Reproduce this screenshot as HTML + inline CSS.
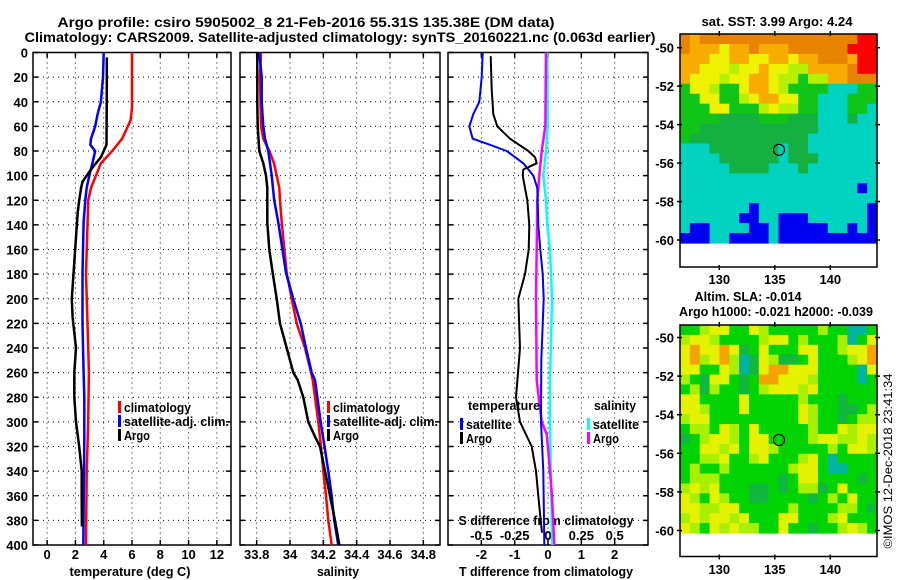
<!DOCTYPE html>
<html><head><meta charset="utf-8"><style>
html,body{margin:0;padding:0;background:#fff;}
svg{display:block;font-family:"Liberation Sans",sans-serif;}
text{fill:#000;}
</style></head><body>
<svg id="fig" width="900" height="580" viewBox="0 0 900 580" xmlns="http://www.w3.org/2000/svg">
<rect x="0" y="0" width="900" height="580" fill="#fff"/>
<text x="306" y="27" text-anchor="middle" font-size="14" font-weight="bold" textLength="497" lengthAdjust="spacingAndGlyphs">Argo profile: csiro 5905002_8 21-Feb-2016 55.31S 135.38E (DM data)</text>
<text x="340" y="42" text-anchor="middle" font-size="14" font-weight="bold" textLength="631" lengthAdjust="spacingAndGlyphs">Climatology: CARS2009. Satellite-adjusted climatology: synTS_20160221.nc (0.063d earlier)</text>
<g id="content"></g>
</svg>
<script>
// ---- data ----
const depthTicks=[0,20,40,60,80,100,120,140,160,180,200,220,240,260,280,300,320,340,360,380,400];
const tempTicks=[0,2,4,6,8,10,12];
const salTicks=[33.8,34,34.2,34.4,34.6,34.8];
const salTickLabels=["33.8","34","34.2","34.4","34.6","34.8"];
const tdiffTicks=[-2,-1,0,1,2];
const sdiffTicks=[-0.5,-0.25,0,0.25,0.5];
const sdiffTickLabels=["-0.5","-0.25","0","0.25","0.5"];
const latTicks=[-50,-52,-54,-56,-58,-60];
const lonTicks=[130,135,140];

const climTDepth=[0,45,55,60,70,80,90,100,110,120,140,180,220,260,300,340,400];
const climTVal=[6.0,6.0,5.9,5.7,5.3,4.6,3.8,3.45,3.1,2.9,2.85,2.75,2.85,2.95,2.9,2.8,2.75];
const satTDepth=[0,20,40,50,60,70,75,80,85,90,100,110,120,138,179,220,260,280,314,400];
const satTVal=[4.0,3.95,3.8,3.57,3.4,3.1,3.05,3.4,3.3,3.2,2.98,2.8,2.7,2.58,2.5,2.5,2.58,2.63,2.63,2.56];
const argoTDepth=[4,30,75,80,85,90,95,100,105,110,120,130,150,170,200,215,240,260,280,300,320,340,360,385];
const argoTVal=[4.22,4.22,4.2,4.0,3.8,3.45,3.1,2.8,2.5,2.4,2.27,2.16,2.04,1.92,1.74,1.8,2.04,1.92,1.92,2.04,2.27,2.44,2.44,2.46];

const climSDepth=[0,20,60,70,80,90,100,110,120,138,179,200,220,240,260,266,300,320,340,360,380,400];
const climSVal=[33.826,33.82,33.826,33.84,33.876,33.904,33.92,33.936,33.94,33.95,33.98,34.01,34.04,34.09,34.126,34.136,34.17,34.186,34.2,34.216,34.23,34.25];
const satSDepth=[0,20,40,60,70,80,100,120,138,179,200,220,240,260,266,300,340,360,380,400];
const satSVal=[33.816,33.83,33.83,33.84,33.85,33.87,33.89,33.905,33.93,33.976,34.02,34.064,34.096,34.13,34.15,34.184,34.23,34.25,34.265,34.29];
const argoSDepth=[0,40,60,80,90,100,110,138,160,179,200,220,240,260,266,280,300,312,320,340,360,380,400];
const argoSVal=[33.804,33.804,33.806,33.816,33.84,33.856,33.864,33.864,33.876,33.896,33.92,33.94,33.98,34.02,34.046,34.08,34.11,34.15,34.18,34.21,34.24,34.27,34.296];

const satDTDepth=[0,20,40,50,60,70,75,80,90,100,110,140,160,180,200,250,300,340,380,400];
const satDTVal=[-1.96,-1.99,-2.06,-2.24,-2.36,-2.26,-1.74,-1.24,-0.74,-0.44,-0.32,-0.29,-0.23,-0.16,-0.13,-0.2,-0.21,-0.14,-0.12,-0.11];
const argoDTDepth=[3,30,50,60,70,80,85,90,95,100,120,140,160,180,200,240,280,300,320,340,360,380,390];
const argoDTVal=[-1.72,-1.69,-1.64,-1.52,-1.14,-0.59,-0.39,-0.34,-0.74,-0.76,-0.62,-0.56,-0.58,-0.69,-0.89,-0.84,-0.96,-0.84,-0.49,-0.36,-0.29,-0.22,-0.18];
const satDSDepth=[0,60,80,100,120,140,160,200,266,300,340,400];
const satDSVal=[-0.005,-0.003,-0.015,-0.035,-0.015,-0.005,0.015,0.03,0.015,0.015,0.02,0.032];
const argoDSDepth=[0,60,80,100,120,160,200,266,280,300,310,320,340,360,400];
const argoDSVal=[-0.015,-0.02,-0.047,-0.065,-0.08,-0.085,-0.09,-0.085,-0.07,-0.047,-0.01,-0.001,0.015,0.03,0.047];

// SST map coarse grid (20 cols x 21 rows), codes -> palette
const sstRows=[
"OAOOOOOOOOOOOOOOOORR","OAAAYAAOAAAOOOOOORRR","AAAYYAAYYAAYAAOOOARR","AAYYYLYYAYYLLAAAAORR",
"AYYYLYYAAYLLGLLAAOOO","GYYLGGYAAYLGGGGCCCGG","GGYYGGLYAAYYGGCCCGGG","GGGYYGGGLYLLGGCCCGGC",
"GGGGDDDDGGGDDDCCCDCC","GGDDDDDDDDDDDDCCCCCC","GDDDDDDDDDDDDCCCCCCC","CCCDDDDDDDCDDCCCCCCC",
"CCCCDDDDDDCDDDCCCCCC","CCCCCDDDDCCCDCCCCCCC","CCCCCCCCCCCCCCCCCCCC","CCCCCCCCCCCCCCCCCCBC",
"CCCCCCCCCCCCCCCCCCCC","CCCCCCCBCCCCCCCCCCCB","CCCCCCBBCCBBBCCCCCCB","CBBCCCCBBCBBBBBCCBCB",
"BBBCCBBBBCBBBBBBBBBB"];
const slaRows=[
"GGLYYGGYLGGGGGLGGTTG","LYYLGGGGLYYGLGGGLTGY","YOYYOYDGYGGGYYGGLYYO","YOLYOLTDYLDDGYGGGLYO",
"YYGGYLTDYOOYYYGGGGTY","LGDYYGDGOOYYYLGGGGTG","GLDLGGDGLYYYLYGGGGGG","YYGGGGYGGGGGLGGGDGGG",
"YYLGGGYGGGGGYLGGDDGL","LYYGGGGGGGGGYLGGDGLL","GLLGYLGYGGGGGLGGYLYY","DGLYYLGYYGGGGLYYLLYL",
"GGYYLYGYYLGGGGGLGYYL","GGLLYGGLYGGGLYGTGGGG","GLGGLGGGGGGLYYGTTGGG","GLLLGGGGGGDGYYGGGGDG",
"LYLYGGGDDGDGLLDGYGGG","YLGYLGGDDGGGGDGLGYGG","YYLLYYGGGGGLGGGGLLGD","LYLYYLYGGGYYGGGLYGGG",
"YLGYLYLLGGYGGDGGLYLG"];
const sstArgoLon=135.38, sstArgoLat=-55.31;

// ---- layout helpers ----
const NS="http://www.w3.org/2000/svg";
const root=document.getElementById('content');
function mk(tag,attrs,parent){const e=document.createElementNS(NS,tag);for(const k in attrs)e.setAttribute(k,attrs[k]);(parent||root).appendChild(e);return e;}
const Y0=52.5,Y1=545;
function yD(d){return Y0+(d/400)*(Y1-Y0);}
const P1={x0:33,x1:231,min:-1,max:13};
const P2={x0:240,x1:440,min:33.7,max:34.9};
const P3={x0:448,x1:648,min:-3,max:3};
const P3S={min:-0.75,max:0.75};
function sx(p,v){return p.x0+(v-p.min)/(p.max-p.min)*(p.x1-p.x0);}
function sxS(v){return P3.x0+(v-P3S.min)/(P3S.max-P3S.min)*(P3.x1-P3.x0);}

function panelFrame(p,name,xTicksPx){
  const g=mk('g',{});
  
  
  depthTicks.forEach(d=>{
    const y=yD(d);
    if(d>0&&d<400){const l=mk('line',{x1:p.x0,x2:p.x1,y1:y,y2:y,stroke:'#000','stroke-width':1,'stroke-dasharray':'1,4'},g);
      }
    mk('line',{x1:p.x0,x2:p.x0+5,y1:y,y2:y,stroke:'#000','stroke-width':1.5},g);
    mk('line',{x1:p.x1-5,x2:p.x1,y1:y,y2:y,stroke:'#000','stroke-width':1.5},g);
  });
  xTicksPx.forEach(x=>{
    const l=mk('line',{x1:x,x2:x,y1:Y0,y2:Y1,stroke:'#000','stroke-width':1,'stroke-dasharray':'1,4'},g);
    
    mk('line',{x1:x,x2:x,y1:Y0,y2:Y0+5,stroke:'#000','stroke-width':1.5},g);
    mk('line',{x1:x,x2:x,y1:Y1-5,y2:Y1,stroke:'#000','stroke-width':1.5},g);
  });
  const r=mk('rect',{x:p.x0,y:Y0,width:p.x1-p.x0,height:Y1-Y0,fill:'none',stroke:'#000','stroke-width':1.5},g);
  
  return g;
}
function line(depths,vals,fx,color,w,name){
  const pts=depths.map((d,i)=>fx(vals[i]).toFixed(1)+','+yD(d).toFixed(1)).join(' ');
  const e=mk('polyline',{points:pts,fill:'none',stroke:color,'stroke-width':w,'stroke-linejoin':'round'});
  
  
}
function txt(x,y,s,opts,name){
  const e=mk('text',Object.assign({x:x,y:y,'font-size':13,'font-weight':'bold'},opts||{}));
  e.textContent=s;
  
  
  return e;
}
function fit(w){return {textLength:w,lengthAdjust:'spacingAndGlyphs'};}
function legendEntry(bx,y,color,label,w,name){
  const r=mk('rect',{x:bx,y:y-6,width:3,height:12,fill:color});
  
  
  txt(bx+6,y+5,label,fit(w),name);
}

// depth labels
depthTicks.forEach(d=>{txt(28,yD(d)+5,String(d),{'text-anchor':'end'},'depth-tick-label');});

// panel 1
panelFrame(P1,'temperature-panel',tempTicks.map(v=>sx(P1,v)));
tempTicks.forEach(v=>txt(sx(P1,v),559,String(v),{'text-anchor':'middle'},'temperature-tick-label'));
txt(130,576,'temperature (deg C)',Object.assign({'text-anchor':'middle'},fit(121)),'temperature-axis-title');
line(climTDepth,climTVal,v=>sx(P1,v),'#f00',2.5,'temperature-climatology-line');
line(satTDepth,satTVal,v=>sx(P1,v),'#00f',2.5,'temperature-satellite-line');
line(argoTDepth,argoTVal,v=>sx(P1,v),'#000',2.5,'temperature-argo-line');
legendEntry(118,407,'#f00','climatology',67,'legend-climatology');
legendEntry(118,421,'#00f','satellite-adj. clim.',105,'legend-satellite');
legendEntry(118,435,'#000','Argo',26,'legend-argo');

// panel 2
panelFrame(P2,'salinity-panel',salTicks.map(v=>sx(P2,v)));
salTicks.forEach((v,i)=>txt(sx(P2,v),559,salTickLabels[i],{'text-anchor':'middle'},'salinity-tick-label'));
txt(338,576,'salinity',Object.assign({'text-anchor':'middle'},fit(42)),'salinity-axis-title');
line(climSDepth,climSVal,v=>sx(P2,v),'#f00',2.5,'salinity-climatology-line');
line(satSDepth,satSVal,v=>sx(P2,v),'#00f',2.5,'salinity-satellite-line');
line(argoSDepth,argoSVal,v=>sx(P2,v),'#000',2.5,'salinity-argo-line');
legendEntry(327,407,'#f00','climatology',67,'legend-climatology');
legendEntry(327,421,'#00f','satellite-adj. clim.',105,'legend-satellite');
legendEntry(327,435,'#000','Argo',26,'legend-argo');

// panel 3
panelFrame(P3,'difference-panel',tdiffTicks.map(v=>sx(P3,v)));
tdiffTicks.forEach(v=>txt(sx(P3,v),559,String(v),{'text-anchor':'middle'},'tdiff-tick-label'));
sdiffTicks.forEach((v,i)=>txt(sxS(v),540,sdiffTickLabels[i],{'text-anchor':'middle'},'sdiff-tick-label'));
txt(546,525,'S difference from climatology',Object.assign({'text-anchor':'middle'},fit(175)),'sdiff-axis-title');
txt(546,576,'T difference from climatology',Object.assign({'text-anchor':'middle'},fit(174)),'tdiff-axis-title');
line(satDSDepth,satDSVal,sxS,'#0ff',2.5,'sdiff-satellite-line');
line(argoDSDepth,argoDSVal,sxS,'#f0f',2.5,'sdiff-argo-line');
line(satDTDepth,satDTVal,v=>sx(P3,v),'#00f',2,'tdiff-satellite-line');
line(argoDTDepth,argoDTVal,v=>sx(P3,v),'#000',2,'tdiff-argo-line');
txt(468,410,'temperature',fit(72),'legend-temperature-heading');
legendEntry(460,424,'#00f','satellite',46,'legend-tdiff-satellite');
legendEntry(460,438,'#000','Argo',26,'legend-tdiff-argo');
txt(594,410,'salinity',fit(42),'legend-salinity-heading');
legendEntry(587,424,'#0ff','satellite',46,'legend-sdiff-satellite');
legendEntry(587,438,'#f0f','Argo',26,'legend-sdiff-argo');

// maps
const pal1={O:'#e88400',A:'#f8ac00',Y:'#eef200',L:'#b4f000',G:'#10c418',D:'#14b040',C:'#00d2c0',B:'#0000f0',R:'#ff0000'};
const pal2={G:'#00d400',D:'#10b840',Y:'#e4f200',L:'#a8f000',O:'#f4a400',T:'#00b4a0'};
function lonX(lon){return 719.3+(lon-130)*11.1;}
function drawMap(m){
  const g=mk('g',{});
  
  
  const nr=m.rows.length,nc=m.rows[0].length;
  const cw=(877-680)/nc,ch=(m.dataBottom-m.top)/nr;
  m.rows.forEach((row,r)=>{for(let c=0;c<nc;c++){
    mk('rect',{x:(680+c*cw).toFixed(2),y:(m.top+r*ch).toFixed(2),width:(cw+0.6).toFixed(2),height:(ch+0.6).toFixed(2),fill:m.pal[row[c]]},g);
  }});
  latTicks.forEach(lat=>{
    const y=m.latY(lat);
    mk('line',{x1:875,x2:880,y1:y,y2:y,stroke:'#000','stroke-width':1.5},g);
    mk('line',{x1:677,x2:682,y1:y,y2:y,stroke:'#000','stroke-width':1.5},g);
    txt(674,y+5,String(lat),{'text-anchor':'end'},'latitude-tick-label');
  });
  lonTicks.forEach(lon=>{
    const x=lonX(lon);
    mk('line',{x1:x,x2:x,y1:m.top-3,y2:m.top+2,stroke:'#000','stroke-width':1.5},g);
    mk('line',{x1:x,x2:x,y1:m.bottom-2,y2:m.bottom+3,stroke:'#000','stroke-width':1.5},g);
    txt(x,m.labelY,String(lon),{'text-anchor':'middle'},'longitude-tick-label');
  });
  const f=mk('rect',{x:680,y:m.top,width:197,height:m.bottom-m.top,fill:'none',stroke:'#000','stroke-width':1.5},g);
  
  const c=mk('circle',{cx:lonX(sstArgoLon),cy:m.latY(sstArgoLat),r:5.5,fill:'none',stroke:'#000','stroke-width':1.2},g);
  
  
}
drawMap({name:'sst-map',rows:sstRows,pal:pal1,top:34,dataBottom:243,bottom:267,labelY:284,latY:lat=>47.7+(-50-lat)*19.23});
drawMap({name:'sla-map',rows:slaRows,pal:pal2,top:325,dataBottom:533,bottom:556.5,labelY:574,latY:lat=>337.5+(-50-lat)*19.3});
txt(777,26,'sat. SST: 3.99 Argo: 4.24',Object.assign({'text-anchor':'middle'},fit(151)),'sst-map-title');
txt(748,301,'Altim. SLA: -0.014',Object.assign({'text-anchor':'middle'},fit(107)),'sla-map-title');
txt(776,316,'Argo h1000: -0.021 h2000: -0.039',Object.assign({'text-anchor':'middle'},fit(194)),'argo-height-label');
txt(0,0,'©IMOS 12-Dec-2018 23:41:34',{'text-anchor':'middle','font-weight':'normal','font-size':12,textLength:175,lengthAdjust:'spacingAndGlyphs',transform:'translate(892,461) rotate(-90)'},'copyright-label');
</script>
</body></html>
